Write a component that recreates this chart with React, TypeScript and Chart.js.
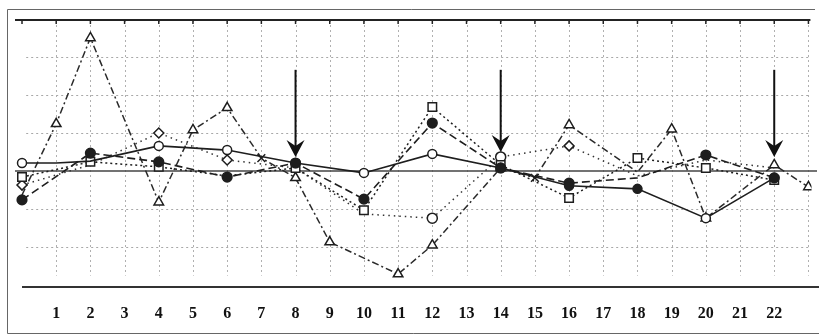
import React, { useEffect, useRef } from "react";
import { Chart, registerables } from "chart.js";

Chart.register(...registerables);

// x positions are the numbered sessions (0 = start, 23 = end)
const tickLabels = ["1","2","3","4","5","6","7","8","9","10","11","12","13","14","15","16","17","18","19","20","21","22"];

// Series A: solid line, circles
const aK = [0, 1, 2, 4, 6, 8, 10, 12, 14, 16, 18, 20, 22];
const aV = [0.21, 0.21, 0.26, 0.66, 0.55, 0.21, -0.05, 0.45, 0.08, -0.39, -0.47, -1.24, -0.18];
const aMark = [1, 0, 0, 1, 1, 1, 1, 1, 1, 1, 1, 1, 1];
const aFill = [0, 0, 0, 0, 0, 1, 0, 0, 1, 1, 1, 0, 1];

// Series B: dashed line, filled circles
const bK = [0, 2, 4, 6, 8, 10, 12, 14, 16, 18, 20, 22];
const bV = [-0.76, 0.47, 0.24, -0.16, 0.21, -0.74, 1.26, 0.08, -0.32, -0.18, 0.42, -0.18];
const bMark = [1, 1, 1, 1, 1, 1, 1, 1, 1, 0, 1, 1];

// Series C: dotted line, open squares
const cK = [0, 2, 4, 6, 8, 10, 12, 14, 16, 18, 20, 22];
const cV = [-0.16, 0.24, 0.11, -0.13, 0.08, -1.03, 1.68, 0.16, -0.71, 0.34, 0.08, -0.24];
const cMark = [1, 1, 1, 0, 1, 1, 1, 1, 1, 1, 1, 1];

// Series E: sparse dotted line, diamonds / open circles
const eK = [0, 2, 4, 6, 8, 10, 12, 14, 16, 18, 20, 22];
const eV = [-0.37, 0.16, 1.0, 0.29, 0.08, -1.13, -1.24, 0.37, 0.66, -0.13, 0.29, 0.08];
const eMark = [1, 0, 1, 1, 0, 0, 1, 1, 1, 0, 0, 0];
const eRound = [0, 0, 0, 0, 0, 0, 1, 1, 0, 0, 0, 0];

// Series D: dash-dot line, triangles
const dK = [0, 1, 2, 4, 5, 6, 7, 8, 9, 11, 12, 14, 15, 16, 18, 19, 20, 22, 23];
const dV = [-0.63, 1.24, 3.5, -0.82, 1.08, 1.66, 0.34, -0.18, -1.87, -2.71, -1.95, 0.08, -0.18, 1.21, -0.03, 1.1, -1.24, 0.16, -0.42];
const dCross = [0, 0, 0, 0, 0, 0, 1, 0, 0, 0, 0, 0, 1, 0, 0, 0, 0, 0, 0];
const dMark = [0, 1, 1, 1, 1, 1, 1, 1, 1, 1, 1, 1, 1, 1, 0, 1, 1, 1, 1];

// arrows
const arrowK = [8, 14, 22];
const arrowTip = [0.37, 0.5, 0.37];
const arrowTop = 2.66;

// grid
const hGrid = [3, 2, 1, -1, -2];
const vGrid = [1, 2, 3, 4, 5, 6, 7, 8, 9, 10, 11, 12, 13, 14, 15, 16, 17, 18, 19, 20, 21, 22, 23];

const pts = (ks: number[], vs: number[]) => ks.map((k, i) => ({ x: k, y: vs[i] }));

const decor = {
  id: "decor",
  beforeDatasetsDraw(chart: any) {
    const ctx = chart.ctx;
    const X = chart.scales.x;
    const Y = chart.scales.y;
    ctx.save();
    // outer border
    ctx.strokeStyle = "#666";
    ctx.lineWidth = 1;
    ctx.beginPath();
    ctx.moveTo(815, 9.5);
    ctx.lineTo(7.5, 9.5);
    ctx.lineTo(7.5, 333.5);
    ctx.lineTo(819, 333.5);
    ctx.stroke();
    // horizontal dotted grid
    ctx.strokeStyle = "#a8a8a8";
    ctx.setLineDash([2, 3]);
    hGrid.forEach((v) => {
      const y = Math.round(Y.getPixelForValue(v)) + 0.5;
      ctx.beginPath();
      ctx.moveTo(X.getPixelForValue(1) - 30, y);
      ctx.lineTo(X.getPixelForValue(23), y);
      ctx.stroke();
    });
    // vertical dotted grid
    ctx.strokeStyle = "#b0b0b0";
    ctx.setLineDash([2, 3]);
    vGrid.forEach((k) => {
      const x = Math.round(X.getPixelForValue(k)) + 0.5;
      ctx.beginPath();
      ctx.moveTo(x, Y.top);
      ctx.lineTo(x, Y.getPixelForValue(-2.75));
      ctx.stroke();
    });
    ctx.setLineDash([]);
    // top line with ticks
    ctx.strokeStyle = "#222";
    ctx.lineWidth = 2;
    ctx.beginPath();
    ctx.moveTo(X.getPixelForValue(0) - 7, Y.top);
    ctx.lineTo(X.getPixelForValue(23) + 2, Y.top);
    ctx.stroke();
    ctx.lineWidth = 1.5;
    [0, ...vGrid].forEach((k) => {
      const x = X.getPixelForValue(k);
      ctx.beginPath();
      ctx.moveTo(x, Y.top);
      ctx.lineTo(x, Y.top + 4);
      ctx.stroke();
    });
    // zero line
    ctx.strokeStyle = "#444";
    ctx.lineWidth = 1.5;
    const y0 = Y.getPixelForValue(0);
    ctx.beginPath();
    ctx.moveTo(X.getPixelForValue(0) - 7, y0);
    ctx.lineTo(817, y0);
    ctx.stroke();
    // bottom line
    ctx.strokeStyle = "#333";
    ctx.lineWidth = 2;
    ctx.beginPath();
    ctx.moveTo(X.getPixelForValue(0), Y.bottom);
    ctx.lineTo(819, Y.bottom);
    ctx.stroke();
    ctx.restore();
  },
  afterDatasetsDraw(chart: any) {
    const ctx = chart.ctx;
    const X = chart.scales.x;
    const Y = chart.scales.y;
    ctx.save();
    ctx.strokeStyle = "#111";
    ctx.fillStyle = "#111";
    arrowK.forEach((k, i) => {
      const x = X.getPixelForValue(k);
      const yTop = Y.getPixelForValue(arrowTop);
      const yTip = Y.getPixelForValue(arrowTip[i]);
      ctx.lineWidth = 2;
      ctx.beginPath();
      ctx.moveTo(x, yTop);
      ctx.lineTo(x, yTip - 8);
      ctx.stroke();
      ctx.beginPath();
      ctx.moveTo(x, yTip);
      ctx.lineTo(x - 9, yTip - 17);
      ctx.lineTo(x, yTip - 11);
      ctx.lineTo(x + 9, yTip - 17);
      ctx.closePath();
      ctx.fill();
    });
    ctx.restore();
  },
};

export default function App() {
  const ref = useRef<HTMLCanvasElement | null>(null);
  useEffect(() => {
    if (!ref.current) return;
    const ink = "#1e1e1e";
    const chart = new Chart(ref.current, {
      type: "line",
      data: {
        datasets: [
          {
            label: "A",
            data: pts(aK, aV),
            borderColor: ink,
            borderWidth: 1.6,
            pointStyle: "circle",
            pointRadius: aMark.map((m) => (m ? 4.5 : 0)),
            pointBackgroundColor: aFill.map((f) => (f ? ink : "#fff")),
            pointBorderColor: ink,
            pointBorderWidth: 1.5,
          },
          {
            label: "B",
            data: pts(bK, bV),
            borderColor: ink,
            borderWidth: 1.6,
            borderDash: [8, 4],
            pointStyle: "circle",
            pointRadius: bMark.map((m) => (m ? 4.8 : 0)),
            pointBackgroundColor: ink,
            pointBorderColor: ink,
          },
          {
            label: "C",
            data: pts(cK, cV),
            borderColor: ink,
            borderWidth: 1.5,
            borderDash: [2, 3],
            pointStyle: "rect",
            pointRadius: cMark.map((m) => (m ? 6 : 0)),
            pointBackgroundColor: "#fff",
            pointBorderColor: ink,
            pointBorderWidth: 1.5,
          },
          {
            label: "E",
            data: pts(eK, eV),
            borderColor: "#333",
            borderWidth: 1.5,
            borderDash: [1.5, 4],
            pointStyle: eRound.map((r) => (r ? "circle" : "rectRot")),
            pointRadius: eMark.map((m) => (m ? 5 : 0)),
            pointBackgroundColor: "#fff",
            pointBorderColor: ink,
            pointBorderWidth: 1.5,
          },
          {
            label: "D",
            data: pts(dK, dV),
            borderColor: "#2a2a2a",
            borderWidth: 1.5,
            borderDash: [7, 3, 2, 3],
            pointStyle: dCross.map((c) => (c ? "crossRot" : "triangle")),
            pointRadius: dMark.map((m) => (m ? 5.5 : 0)),
            pointBackgroundColor: "#fff",
            pointBorderColor: ink,
            pointBorderWidth: 1.5,
          },
        ],
      },
      options: {
        responsive: false,
        animation: false,
        devicePixelRatio: 1,
        layout: { padding: { left: 15, right: 2, top: 20, bottom: 0 } },
        plugins: { legend: { display: false }, tooltip: { enabled: false } },
        scales: {
          x: {
            type: "linear",
            min: -0.205,
            max: 23.09,
            afterFit: (s: any) => {
              s.height = 49;
              s.paddingLeft = 0;
              s.paddingRight = 0;
            },
            grid: { display: false, drawTicks: false },
            border: { display: false },
            ticks: {
              stepSize: 1,
              autoSkip: false,
              maxRotation: 0,
              padding: 17,
              color: "#111",
              font: { family: "'Liberation Serif', 'Times New Roman', serif", size: 16, weight: "bold" },
              callback: (v: any) => {
                const n = Number(v);
                return Number.isInteger(n) && n >= 1 && n <= 22 ? tickLabels[n - 1] : "";
              },
            },
          },
          y: {
            display: false,
            min: -3.05,
            max: 3.97,
          },
        },
      },
      plugins: [decor],
    } as any);
    return () => chart.destroy();
  }, []);
  return (
    <canvas
      ref={ref}
      width={819}
      height={336}
      style={{ position: "absolute", left: 0, top: 0, width: 819, height: 336, background: "#fff" }}
    />
  );
}
